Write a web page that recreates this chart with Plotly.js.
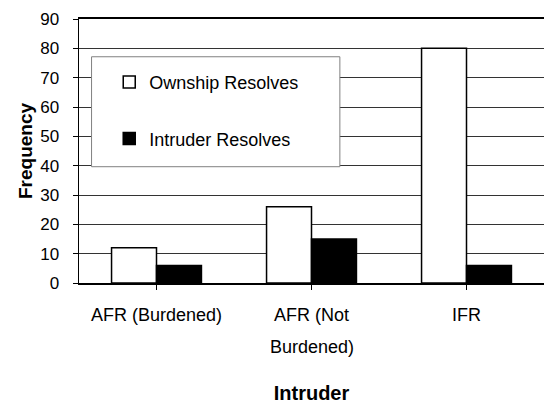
<!DOCTYPE html>
<html>
<head>
<meta charset="utf-8">
<script src="https://cdn.plot.ly/plotly-3.0.1.min.js"></script>
<style>html,body{margin:0;padding:0;background:#fff;}#chart{width:544px;height:404px;}</style>
</head>
<body>
<div id="chart"></div>
<script>
const categories = ["AFR (Burdened)", "AFR (Not\nBurdened)", "IFR"];
const ownshipResolves = [12, 26, 80];
const intruderResolves = [6, 15, 6];
const seriesNames = ["Ownship Resolves", "Intruder Resolves"];
const yTicks = [0, 10, 20, 30, 40, 50, 60, 70, 80, 90];
const xTitle = "Intruder";
const yTitle = "Frequency";

const FONT = "Liberation Sans, Arial, sans-serif";
const idx = categories.map((c, i) => i);
const firstLines = categories.map(c => c.split("\n")[0]);
const secondLines = categories.map(c => c.split("\n")[1] || "");

const traces = [
  {type: "bar", name: seriesNames[0], x: idx, y: ownshipResolves, legendgroup: "a",
   marker: {color: "#ffffff", line: {color: "#000000", width: 1.5}}},
  {type: "bar", name: seriesNames[1], x: idx, y: intruderResolves, legendgroup: "b",
   marker: {color: "#000000", line: {color: "#000000", width: 1.5}}}
];

const annotations = secondLines.map((t, i) => t ? ({
  text: t, x: i, xref: "x", y: -0.2424, yref: "paper", yanchor: "middle", xanchor: "center",
  showarrow: false, font: {family: FONT, size: 18, color: "#000"}
}) : null).filter(a => a);

const layout = {
  width: 544, height: 404,
  margin: {l: 79, r: 0, t: 19, b: 121},
  paper_bgcolor: "#fff", plot_bgcolor: "#fff",
  barmode: "group", bargap: 0.42, bargroupgap: 0,
  showlegend: true,
  legend: {x: 0.065, xanchor: "left", y: 0.83, yanchor: "top", bgcolor: "rgba(0,0,0,0)",
           borderwidth: 0, traceorder: "grouped", tracegroupgap: 30,
           font: {family: FONT, size: 18, color: "#000"}},
  xaxis: {
    range: [-0.5, 2.5], tickvals: idx, ticktext: firstLines, tickson: "boundaries",
    ticks: "outside", ticklen: 5, tickcolor: "#000", tickwidth: 1,
    showline: true, mirror: true, linecolor: "#000", linewidth: 2,
    showgrid: false, zeroline: false, fixedrange: true,
    ticklabelstandoff: 9,
    tickfont: {family: FONT, size: 18, color: "#000"},
    title: {text: xTitle, font: {family: FONT, size: 20, color: "#000", weight: "bold"}, standoff: 70}
  },
  yaxis: {
    range: [0, 90], tickvals: yTicks, ticks: "outside", ticklen: 5, tickcolor: "#000",
    showline: true, linecolor: "#000", linewidth: 1.5,
    showgrid: true, gridcolor: "#333", gridwidth: 1, zeroline: false,
    ticklabelstandoff: 10,
    tickfont: {family: FONT, size: 17, color: "#000"},
    title: {text: yTitle, font: {family: FONT, size: 19, color: "#000", weight: "bold"}, standoff: 2}
  },
  shapes: [{type: "rect", xref: "paper", yref: "paper", x0: 0.027, x1: 0.561, y0: 0.4405, y1: 0.857,
            fillcolor: "#fff", line: {color: "#808080", width: 1}, layer: "above"}],
  annotations: annotations
};

Plotly.newPlot("chart", traces, layout, {staticPlot: true, displayModeBar: false});
</script>
</body>
</html>
